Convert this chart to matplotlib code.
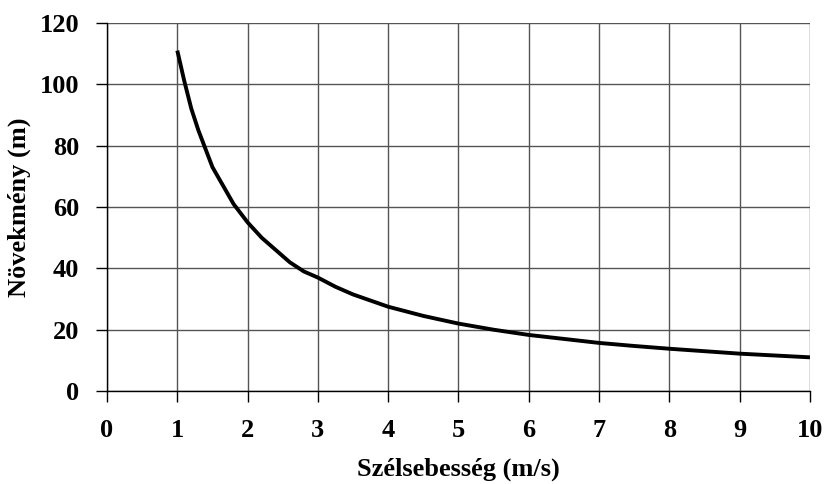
import matplotlib
matplotlib.use("Agg")
import matplotlib.pyplot as plt

wind_speed = [1.0, 1.1, 1.2, 1.3, 1.4, 1.5, 1.6, 1.7, 1.8, 1.9, 2.0, 2.2, 2.4, 2.6, 2.8, 3.0,
              3.25, 3.5, 3.75, 4.0, 4.5, 5.0, 5.5, 6.0, 6.5, 7.0, 7.5, 8.0, 8.5, 9.0, 9.5, 10.0]
growth = [111, 101, 92, 85, 79, 73, 69, 65, 61, 58, 55, 50, 46, 42, 39, 37,
          34, 31.5, 29.5, 27.5, 24.5, 22, 20, 18.3, 17, 15.7, 14.7, 13.8, 13, 12.2, 11.6, 11]
x_ticks = list(range(0, 11))
y_ticks = [0, 20, 40, 60, 80, 100, 120]

plt.rcParams['font.family'] = ['Liberation Serif', 'DejaVu Serif']
plt.rcParams['font.weight'] = 'bold'

fig = plt.figure(figsize=(8.27, 4.84), dpi=100)
ax = fig.add_axes([0.1294, 0.192, 0.85, 0.7605])

ax.plot(wind_speed, growth, color='black', linewidth=2.8, solid_joinstyle='round',
        solid_capstyle='butt', zorder=3)
ax.set_xlim(0, 10)
ax.set_ylim(0, 120)
ax.set_xticks(x_ticks)
ax.set_yticks(y_ticks)
ax.grid(True, color='#555555', linewidth=1.0)
for s in ['top', 'right']:
    ax.spines[s].set_visible(False)
for s in ['left', 'bottom']:
    ax.spines[s].set_color('black')
    ax.spines[s].set_linewidth(1.0)
ax.tick_params(axis='both', direction='out', length=8, width=1, labelsize=19, pad=12)
for lab in ax.get_xticklabels() + ax.get_yticklabels():
    lab.set_fontweight('bold')
ax.set_xlabel('Szélsebesség (m/s)', fontsize=19, fontweight='bold', labelpad=11)
ax.set_ylabel('Növekmény (m)', fontsize=19, fontweight='bold', labelpad=6)

fig.savefig('out.png', dpi=100)
